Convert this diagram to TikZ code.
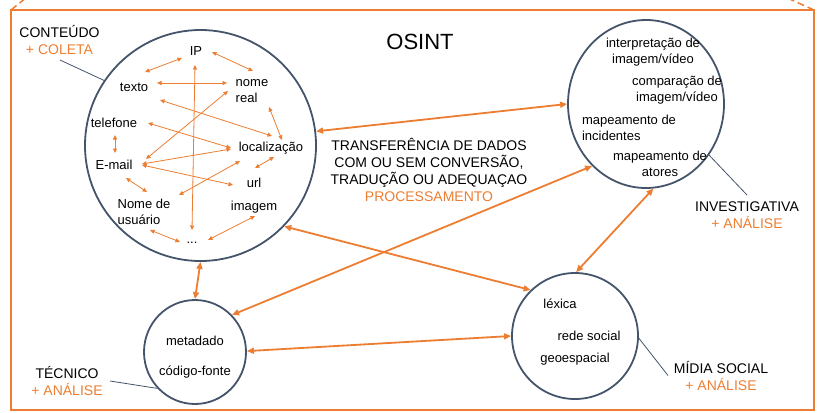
\documentclass[tikz,border=0pt]{standalone}
\usepackage{fontspec}
\setmainfont{Liberation Sans}
\usetikzlibrary{arrows.meta,shapes.geometric}
\definecolor{og}{HTML}{ED7D31}
\definecolor{sl}{HTML}{44546A}
\begin{document}
\begin{tikzpicture}[x=1bp,y=-1bp,
  circ/.style={draw=sl,line width=1.8bp,ellipse,inner sep=0pt},
  word/.style={inner sep=0pt,font=\fontsize{13bp}{16bp}\selectfont,text=black},
  lbl/.style={inner sep=0pt,align=center,font=\fontsize{14bp}{17bp}\selectfont},
  sa/.style={og,line width=0.8bp,{Triangle[length=4.5bp,width=4bp]}-{Triangle[length=4.5bp,width=4bp]}},
  ba/.style={og,line width=1.8bp,{Triangle[length=7bp,width=6bp]}-{Triangle[length=7bp,width=6bp]}},
  ptr/.style={sl,line width=0.8bp},
  corner/.style={og,line width=1.5bp,dash pattern=on 7bp off 4bp}
]
\useasboundingbox (0,0) rectangle (817,412);
\clip (0,0) rectangle (817,412);
% frame
\node[draw=og,line width=2bp,minimum width=803bp,minimum height=400bp,inner sep=0pt,outer sep=0pt,anchor=north west] (frame) at (11,10) {};
\draw[corner] (frame.north west) -- ++(16,-13);
\draw[corner] (frame.north east) -- ++(-40,-18);
% circles
\node[circ,minimum width=231bp,minimum height=231bp] (cont) at (200.5,145.5) {};
\node[circ,minimum width=156bp,minimum height=168bp] (inv) at (646,104) {};
\node[circ,minimum width=102bp,minimum height=104bp] (tec) at (195,352) {};
\node[circ,minimum width=126bp,minimum height=126bp] (mid) at (575,336) {};
% words in CONTEUDO
\node[word] (ip) at (196,51) {IP};
\node[word] (texto) at (134,87) {texto};
\node[word,align=left] (nome) at (252,91) {nome\\real};
\node[word] (tel) at (114,123) {telefone};
\node[word] (loc) at (271,148) {localização};
\node[word] (email) at (114,165) {E-mail};
\node[word] (url) at (254,183) {url};
\node[word,align=left] (nomeu) at (144,211.5) {Nome de\\usuário};
\node[word] (img) at (254,207) {imagem};
\node[word] (dots) at (192,243) {...};
% small arrows
\draw[sa] ([shift={(-14,7)}]ip.center) -- ([shift={(11,-15)}]texto.center);
\draw[sa] ([shift={(16,1)}]ip.center) -- ([shift={(1,-20)}]nome.center);
\draw[sa] ([shift={(23,-4)}]texto.center) -- ([shift={(-25,-8)}]nome.center);
\draw[sa] ([shift={(-1,14)}]ip.center) -- ([shift={(0,-13)}]dots.center);
\draw[sa] ([shift={(26,13)}]texto.center) -- ([shift={(1,-12)}]loc.center);
\draw[sa] ([shift={(17,16)}]nome.center) -- ([shift={(11,-8)}]loc.center);
\draw[sa] ([shift={(34,0)}]tel.center) -- ([shift={(-40,0)}]loc.center);
\draw[sa] ([shift={(1,12)}]tel.center) -- ([shift={(1,-12)}]email.center);
\draw[sa] ([shift={(32,-6)}]email.center) -- ([shift={(-24,0)}]nome.center);
\draw[sa] ([shift={(28,-1)}]email.center) -- ([shift={(-40,1)}]loc.center);
\draw[sa] ([shift={(28,0)}]email.center) -- ([shift={(-21,2)}]url.center);
\draw[sa] ([shift={(35,-16.5)}]nomeu.center) -- ([shift={(-31,13)}]loc.center);
\draw[sa] ([shift={(1,-15)}]url.center) -- ([shift={(3,9)}]loc.center);
\draw[sa] ([shift={(12,13)}]email.center) -- ([shift={(3,-19.5)}]nomeu.center);
\draw[sa] ([shift={(6,18.5)}]nomeu.center) -- ([shift={(-12,-1)}]dots.center);
\draw[sa] ([shift={(1,9)}]img.center) -- ([shift={(16,-3)}]dots.center);
% words in INVESTIGATIVA
\node[word,align=center] (it1) at (653,52.5) {interpretação de\\imagem/vídeo};
\node[word,align=center] (it2) at (677,90) {comparação de\\imagem/vídeo};
\node[word,align=left] (it3) at (629,128) {mapeamento de\\incidentes};
\node[word,align=center] (it4) at (660,164) {mapeamento de\\atores};
% words in TECNICO
\node[word] (meta) at (195,341) {metadado};
\node[word] (cod) at (195,372) {código-fonte};
% words in MIDIA SOCIAL
\node[word] (lex) at (560,304) {léxica};
\node[word] (rede) at (589,336) {rede social};
\node[word] (geo) at (575,359) {geoespacial};
% labels
\node[lbl] (osint) at (420,42) {\fontsize{22bp}{26bp}\selectfont OSINT};
\node[lbl] (proc) at (429,169.5) {TRANSFERÊNCIA DE DADOS\\COM OU SEM CONVERSÃO,\\TRADUÇÃO OU ADEQUAÇAO\\\textcolor{og}{PROCESSAMENTO}};
\node[lbl] (lcont) at (59.5,39.5) {CONTEÚDO\\\textcolor{og}{+ COLETA}};
\node[lbl] (linv) at (747,215.5) {INVESTIGATIVA\\\textcolor{og}{+ ANÁLISE}};
\node[lbl] (ltec) at (67,381) {TÉCNICO\\\textcolor{og}{+ ANÁLISE}};
\node[lbl] (lmid) at (721,375.5) {MÍDIA SOCIAL\\\textcolor{og}{+ ANÁLISE}};
% pointer lines
\draw[ptr] ([shift={(0.5,20.5)}]lcont.center) -- (cont.146);
\draw[ptr] ([shift={(0,-20.5)}]linv.center) -- (inv.-39);
\draw[ptr] ([shift={(43,0)}]ltec.center) -- (tec.-136);
\draw[ptr] ([shift={(-53,0)}]lmid.center) -- (mid.-2);
% big arrows
\draw[ba] (cont.7) -- (inv.180);
\draw[ba] (cont.-44.6) -- (mid.134.4);
\draw[ba] (tec.45) -- (inv.-131.9);
\draw[ba] (inv.-85.2) -- (mid.89);
\draw[ba] (cont.-90) -- (tec.90);
\draw[ba] (tec.1) -- (mid.180);
\end{tikzpicture}
\end{document}
